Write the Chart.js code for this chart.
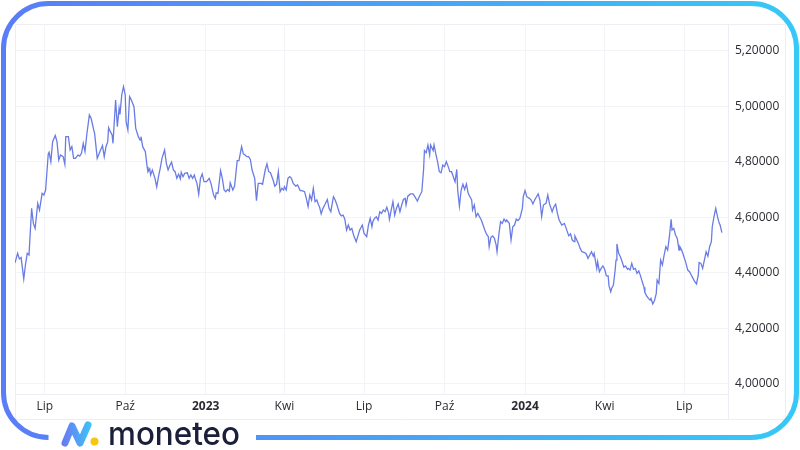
<!DOCTYPE html>
<html>
<head>
<meta charset="utf-8">
<script src="https://cdn.jsdelivr.net/npm/chart.js@4.4.1/dist/chart.umd.min.js"></script>
<style>
  html, body { margin: 0; padding: 0; background: #fff; }
  #wrap { position: relative; width: 800px; height: 450px; }
</style>
</head>
<body>
<div id="wrap"><canvas id="mycanvas" width="800" height="450"></canvas></div>
<script>
// days counted from 2022-07-01
var days = [-34,-31,-29,-27,-24,-22,-20,-18,-15,-13,-11,-8,-6,-3,-1,1,4,5,7,9,12,14,16,18,21,23,24,27,29,31,33,35,38,40,42,44,46,48,51,53,56,57,60,63,66,68,70,72,73,75,77,78,81,83,85,86,88,90,92,93,95,97,99,102,104,107,109,110,112,115,117,118,120,121,123,126,128,130,132,134,137,139,141,143,145,147,149,151,153,155,156,158,160,
163,165,167,169,171,172,174,176,178,180,182,185,188,190,193,195,196,198,201,203,205,207,209,211,212,215,217,220,222,225,227,229,231,233,235,237,240,242,244,247,249,252,254,256,258,261,263,265,267,269,271,273,274,276,278,280,282,284,287,289,292,294,297,299,301,303,305,307,309,311,313,314,316,318,320,323,325,327,329,330,332,334,337,339,341,343,345,347,349,351,353,356,358,360,
363,365,368,370,372,374,375,377,379,381,383,385,387,389,391,393,394,396,398,400,402,404,406,408,410,412,413,415,418,421,423,426,428,431,433,434,436,438,440,441,444,445,447,449,451,453,455,457,459,461,463,465,467,469,471,472,474,476,478,480,482,484,486,488,489,491,493,495,497,499,501,503,505,507,508,510,512,514,516,517,519,521,523,525,527,528,531,533,535,537,539,541,543,546,547,549,551,554,556,558,560,
564,566,568,570,573,575,577,580,582,584,586,588,591,594,596,599,601,603,605,606,610,612,614,617,619,621,623,625,627,628,631,632,634,636,638,640,642,644,645,647,648,650,652,653,654,656,658,660,662,664,666,667,669,671,673,675,677,679,681,683,685,686,688,690,692,693,695,697,699,700,702,704,706,708,710,712,714,716,717,719,721,723,725,726,728,730,733,735,737,739,741,743,745,747,748,750,752,754,756,758,760,762,763,765,767,769,771,772,774];

var rates = [4.436,4.47,4.45,4.455,4.378,4.43,4.47,4.464,4.632,4.578,4.56,4.65,4.626,4.686,4.68,4.698,4.828,4.834,4.80,4.872,4.894,4.872,4.806,4.824,4.818,4.79,4.89,4.89,4.842,4.854,4.812,4.812,4.824,4.82,4.83,4.866,4.836,4.896,4.968,4.956,4.914,4.902,4.812,4.836,4.858,4.818,4.854,4.872,4.922,4.908,4.896,4.866,5.022,4.926,4.992,4.97,5.04,5.07,5.04,4.944,4.914,5.034,5.022,4.998,4.92,4.89,4.878,4.89,4.854,4.836,4.782,4.764,4.774,4.752,4.77,4.74,4.709,4.746,4.776,4.812,4.842,4.794,4.77,4.786,4.798,4.77,4.764,4.74,4.755,4.738,4.762,4.746,4.758,
4.76,4.74,4.752,4.74,4.752,4.74,4.722,4.683,4.74,4.756,4.728,4.728,4.74,4.722,4.68,4.668,4.688,4.686,4.768,4.74,4.698,4.692,4.70,4.694,4.724,4.698,4.712,4.804,4.804,4.854,4.828,4.824,4.818,4.818,4.808,4.77,4.74,4.66,4.722,4.722,4.719,4.77,4.792,4.764,4.76,4.734,4.712,4.719,4.764,4.692,4.704,4.698,4.71,4.698,4.74,4.746,4.74,4.722,4.712,4.716,4.696,4.696,4.692,4.668,4.638,4.68,4.662,4.704,4.656,4.662,4.644,4.638,4.612,4.632,4.644,4.664,4.632,4.62,4.656,4.674,4.662,4.644,4.614,4.605,4.608,4.593,4.554,4.572,4.554,4.56,4.536,4.512,4.533,4.554,
4.572,4.542,4.53,4.572,4.596,4.566,4.584,4.596,4.602,4.59,4.62,4.614,4.626,4.62,4.636,4.616,4.593,4.626,4.656,4.608,4.632,4.648,4.62,4.644,4.664,4.668,4.644,4.676,4.684,4.684,4.674,4.658,4.674,4.692,4.77,4.84,4.832,4.86,4.824,4.86,4.84,4.86,4.828,4.80,4.764,4.76,4.788,4.782,4.80,4.784,4.764,4.764,4.746,4.728,4.772,4.698,4.64,4.698,4.719,4.70,4.72,4.686,4.674,4.662,4.626,4.644,4.602,4.614,4.602,4.59,4.572,4.554,4.539,4.53,4.494,4.528,4.533,4.524,4.50,4.476,4.536,4.584,4.578,4.593,4.584,4.59,4.578,4.518,4.566,4.572,4.593,4.588,4.596,4.632,4.674,4.696,4.674,4.668,4.662,4.648,4.662,
4.684,4.662,4.602,4.644,4.65,4.68,4.648,4.62,4.638,4.647,4.614,4.59,4.572,4.578,4.56,4.533,4.54,4.518,4.512,4.533,4.506,4.488,4.476,4.473,4.468,4.452,4.464,4.476,4.46,4.47,4.416,4.44,4.404,4.416,4.425,4.413,4.389,4.389,4.353,4.332,4.344,4.356,4.41,4.446,4.504,4.47,4.458,4.44,4.42,4.425,4.413,4.416,4.41,4.434,4.413,4.416,4.398,4.407,4.389,4.368,4.348,4.329,4.317,4.308,4.302,4.308,4.288,4.30,4.326,4.374,4.362,4.446,4.428,4.464,4.494,4.482,4.53,4.593,4.554,4.56,4.536,4.524,4.482,4.494,4.482,4.464,4.434,4.41,4.404,4.392,4.38,4.368,4.36,4.392,4.437,4.434,4.416,4.446,4.476,4.46,4.494,4.512,4.566,4.602,4.632,4.602,4.578,4.572,4.545];

var monthTicks = [0, 92, 184, 274, 365, 457, 549, 640, 731];
var monthLabels = ['Lip', 'Paź', '2023', 'Kwi', 'Lip', 'Paź', '2024', 'Kwi', 'Lip'];
var yearTicks = [184, 549];
var priceTicks = [4.0, 4.2, 4.4, 4.6, 4.8, 5.0, 5.2];

var points = [];
for (var i in days) {
	points.push({x: days[i], y: rates[i]});
}

// frame, chart box and logo
var framePlugin = {
	id: 'frame',
	beforeDraw: function(chart) {
		var ctx = chart.ctx;
		var a = chart.chartArea;
		ctx.save();
		ctx.fillStyle = '#ffffff';
		ctx.fillRect(0, 0, 800, 450);
		// chart box lines
		ctx.strokeStyle = '#eceef3';
		ctx.lineWidth = 1;
		ctx.beginPath();
		ctx.rect(a.left + 0.5, a.top + 0.5, 785 - a.left, 419 - a.top);
		ctx.moveTo(a.right + 0.5, a.top);
		ctx.lineTo(a.right + 0.5, 419);
		ctx.moveTo(a.left, a.bottom + 0.5);
		ctx.lineTo(a.right, a.bottom + 0.5);
		ctx.stroke();
		ctx.restore();
	},
	afterDraw: function(chart) {
		var ctx = chart.ctx;
		ctx.save();
		var g = ctx.createLinearGradient(0, 0, 800, 0);
		g.addColorStop(0, '#5b7cf6');
		g.addColorStop(1, '#36c9f6');
		ctx.strokeStyle = g;
		ctx.lineWidth = 5;
		var L = 3.5, T = 3.5, R = 796.5, B = 437.5, r = 45;
		ctx.beginPath();
		ctx.moveTo(256, B);
		ctx.lineTo(R - r, B);
		ctx.arcTo(R, B, R, B - r, r);
		ctx.lineTo(R, T + r);
		ctx.arcTo(R, T, R - r, T, r);
		ctx.lineTo(L + r, T);
		ctx.arcTo(L, T, L, T + r, r);
		ctx.lineTo(L, B - r);
		ctx.arcTo(L, B, L + r, B, r);
		ctx.stroke();

		// logo mark
		var g2 = ctx.createLinearGradient(62, 0, 92, 0);
		g2.addColorStop(0, '#6b78f3');
		g2.addColorStop(1, '#3cc6f6');
		ctx.strokeStyle = g2;
		ctx.lineWidth = 7;
		ctx.lineJoin = 'round';
		ctx.lineCap = 'round';
		ctx.beginPath();
		ctx.moveTo(65, 443);
		ctx.lineTo(72, 426);
		ctx.lineTo(80, 443);
		ctx.lineTo(88, 425);
		ctx.stroke();
		ctx.fillStyle = '#f7c614';
		ctx.beginPath();
		ctx.arc(94.5, 441.5, 4, 0, Math.PI * 2);
		ctx.fill();

		// logo text
		ctx.fillStyle = '#1c1f3a';
		ctx.font = '500 33px Inter';
		ctx.textBaseline = 'alphabetic';
		var w = ctx.measureText('moneteo').width;
		ctx.translate(108, 445);
		ctx.scale(132 / w, 1);
		ctx.fillText('moneteo', 0, 0);
		ctx.restore();
	}
};

var chartdata = {
	datasets: [
		{
			label: 'kurs',
			data: points,
			borderColor: '#6a7ce4',
			borderWidth: 1.3,
			pointRadius: 0,
			tension: 0,
			fill: false
		}
	]
};

var ctx = document.getElementById('mycanvas');

var lineGraph = new Chart(ctx, {
	type: 'line',
	data: chartdata,
	plugins: [framePlugin],
	options: {
		responsive: false,
		animation: false,
		events: [],
		layout: { padding: { left: 15, top: 24, right: 15, bottom: 31 } },
		plugins: { legend: { display: false }, tooltip: { enabled: false } },
		scales: {
			x: {
				type: 'linear',
				min: -34,
				max: 781,
				afterBuildTicks: function(scale) {
					scale.ticks = monthTicks.map(function(v) { return {value: v}; });
				},
				afterFit: function(scale) { scale.height = 25; },
				grid: { color: '#f3f4f8', drawTicks: false },
				border: { display: false },
				ticks: {
					padding: 5,
					maxRotation: 0,
					autoSkip: false,
					color: '#2b2b33',
					font: function(c) {
						var bold = c.tick && yearTicks.indexOf(c.tick.value) >= 0;
						return { family: 'Open Sans', size: 12, weight: bold ? 'bold' : 'normal' };
					},
					callback: function(v) {
						var k = monthTicks.indexOf(v);
						return k >= 0 ? monthLabels[k] : '';
					}
				}
			},
			y: {
				position: 'right',
				min: 3.964,
				max: 5.2954,
				afterBuildTicks: function(scale) {
					scale.ticks = priceTicks.map(function(v) { return {value: v}; });
				},
				afterFit: function(scale) { scale.width = 57; },
				grid: { color: '#f3f4f8', drawTicks: false },
				border: { display: false },
				ticks: {
					padding: 7,
					color: '#2b2b33',
					font: { family: 'Open Sans', size: 12 },
					callback: function(v) {
						return v.toFixed(5).replace('.', ',');
					}
				}
			}
		}
	}
});
</script>
</body>
</html>
